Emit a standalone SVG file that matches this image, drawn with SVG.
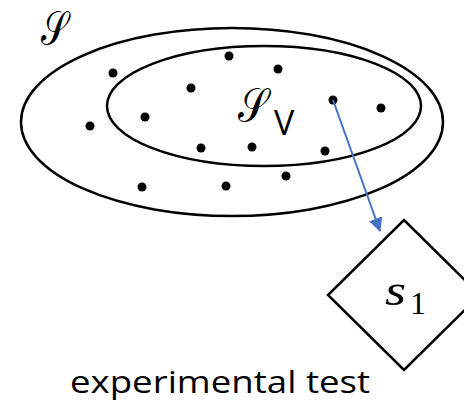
<svg xmlns="http://www.w3.org/2000/svg" width="464" height="404" viewBox="0 0 464 404">
<style>
.set{fill:none;stroke:#000;stroke-width:2.5}
.dot{fill:#000}
.math{font-family:"DejaVu Serif","Liberation Serif",serif}
.lbl{font-family:"Open Sans","Liberation Sans",sans-serif;fill:#000}
</style>
<defs>
<marker id="ah" markerWidth="14" markerHeight="14" refX="13" refY="7" orient="auto" markerUnits="userSpaceOnUse" viewBox="0 0 14 14">
<path d="M0,0 L14,7 L0,14 z" fill="#4472C4"/>
</marker>
</defs>
<rect width="464" height="404" fill="#fff"/>
<g id="set-S">
<ellipse class="set" cx="232" cy="122" rx="211" ry="94"/>
<text class="math" transform="translate(41,45) scale(0.72,1)" font-size="48">𝒮</text>
</g>
<g id="set-SV">
<ellipse class="set" cx="264" cy="106" rx="157" ry="60"/>
<text class="math" transform="translate(238,122) scale(0.8,1)" font-size="48">𝒮</text>
<text class="lbl" x="274" y="135" font-size="34">V</text>
</g>
<g id="points">
<circle class="dot" cx="113" cy="73" r="4.5"/>
<circle class="dot" cx="229" cy="56" r="4.5"/>
<circle class="dot" cx="278" cy="69" r="4.5"/>
<circle class="dot" cx="191" cy="88" r="4.5"/>
<circle class="dot" cx="333" cy="100" r="4.5"/>
<circle class="dot" cx="381" cy="108" r="4.5"/>
<circle class="dot" cx="145" cy="117" r="4.5"/>
<circle class="dot" cx="90" cy="126" r="4.5"/>
<circle class="dot" cx="201" cy="148" r="4.5"/>
<circle class="dot" cx="252" cy="147" r="4.5"/>
<circle class="dot" cx="325" cy="151" r="4.5"/>
<circle class="dot" cx="286" cy="176" r="4.5"/>
<circle class="dot" cx="142" cy="187" r="4.5"/>
<circle class="dot" cx="226" cy="186" r="4.5"/>
</g>
<g id="connectors">
<line x1="333" y1="100" x2="380" y2="231" stroke="#4472C4" stroke-width="2" marker-end="url(#ah)"/>
</g>
<g id="test-s1">
<polygon points="404,220 480,295 404,370 328,295" fill="none" stroke="#000" stroke-width="2.5"/>
<text transform="translate(385,305) scale(1.2,1)" font-size="45" font-style="italic" font-family="Liberation Serif, serif">s</text>
<text x="410" y="314" font-size="32" font-family="Liberation Serif, serif">1</text>
</g>
<g id="caption">
<text class="lbl" x="70" y="393" font-size="31" textLength="300" lengthAdjust="spacingAndGlyphs">experimental test</text>
</g>
</svg>
